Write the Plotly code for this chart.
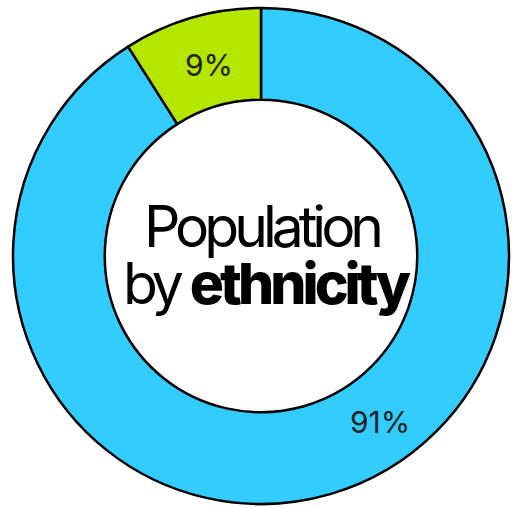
import plotly.graph_objects as go
import math

categories = ["Main group", "Other"]
values = [91, 9]
colors = ["#33ccff", "#b4e600"]
label_texts = ["91%", "9%"]

W, H = 514, 508
ml, mr, mt, mb = 13, 5, 8, 4
hole = 0.63

fig = go.Figure(go.Pie(
    labels=categories, values=values, hole=hole, sort=False,
    direction="clockwise", rotation=0,
    marker=dict(colors=colors, line=dict(color="#000000", width=2.5)),
    textinfo="none", hoverinfo="label+percent", showlegend=False,
))

cx = ml + (W - ml - mr) / 2
cy = mt + (H - mt - mb) / 2
R = (W - ml - mr) / 2
rr = R * (1 + hole) / 2
annotations = []
total = sum(values)
start = 90.0  # math angle, going clockwise (decreasing)
for v, t in zip(values, label_texts):
    span = 360 * v / total
    mid = start - span / 2
    start -= span
    if t == "91%":
        ang = -54.5
        r_use = rr + 4
    else:
        ang = mid
        r_use = rr + 4
    x = cx + r_use * math.cos(math.radians(ang))
    y = cy - r_use * math.sin(math.radians(ang))
    annotations.append(dict(
        x=x / W, y=1 - y / H, xref="paper", yref="paper", text=t, showarrow=False,
        font=dict(family="Inter", size=30, color="#222222"),
        xanchor="center", yanchor="middle"))

annotations.append(dict(
    x=(cx - 3) / W, y=1 - 224 / H, xref="paper", yref="paper", showarrow=False,
    text='<span style="letter-spacing:-5px">Population</span>',
    font=dict(family="Inter", size=57, color="#000000"),
    xanchor="center", yanchor="middle"))
annotations.append(dict(
    x=(cx + 2) / W, y=1 - 282 / H, xref="paper", yref="paper", showarrow=False,
    text='<span style="letter-spacing:-5px">by </span><span style="letter-spacing:-4px;font-weight:800">ethnicity</span>',
    font=dict(family="Inter", size=57, color="#000000"),
    xanchor="center", yanchor="middle"))

fig.update_layout(
    width=W, height=H,
    margin=dict(l=ml, r=mr, t=mt, b=mb),
    paper_bgcolor="white", plot_bgcolor="white",
    annotations=annotations,
)
fig.write_html("out.html")
